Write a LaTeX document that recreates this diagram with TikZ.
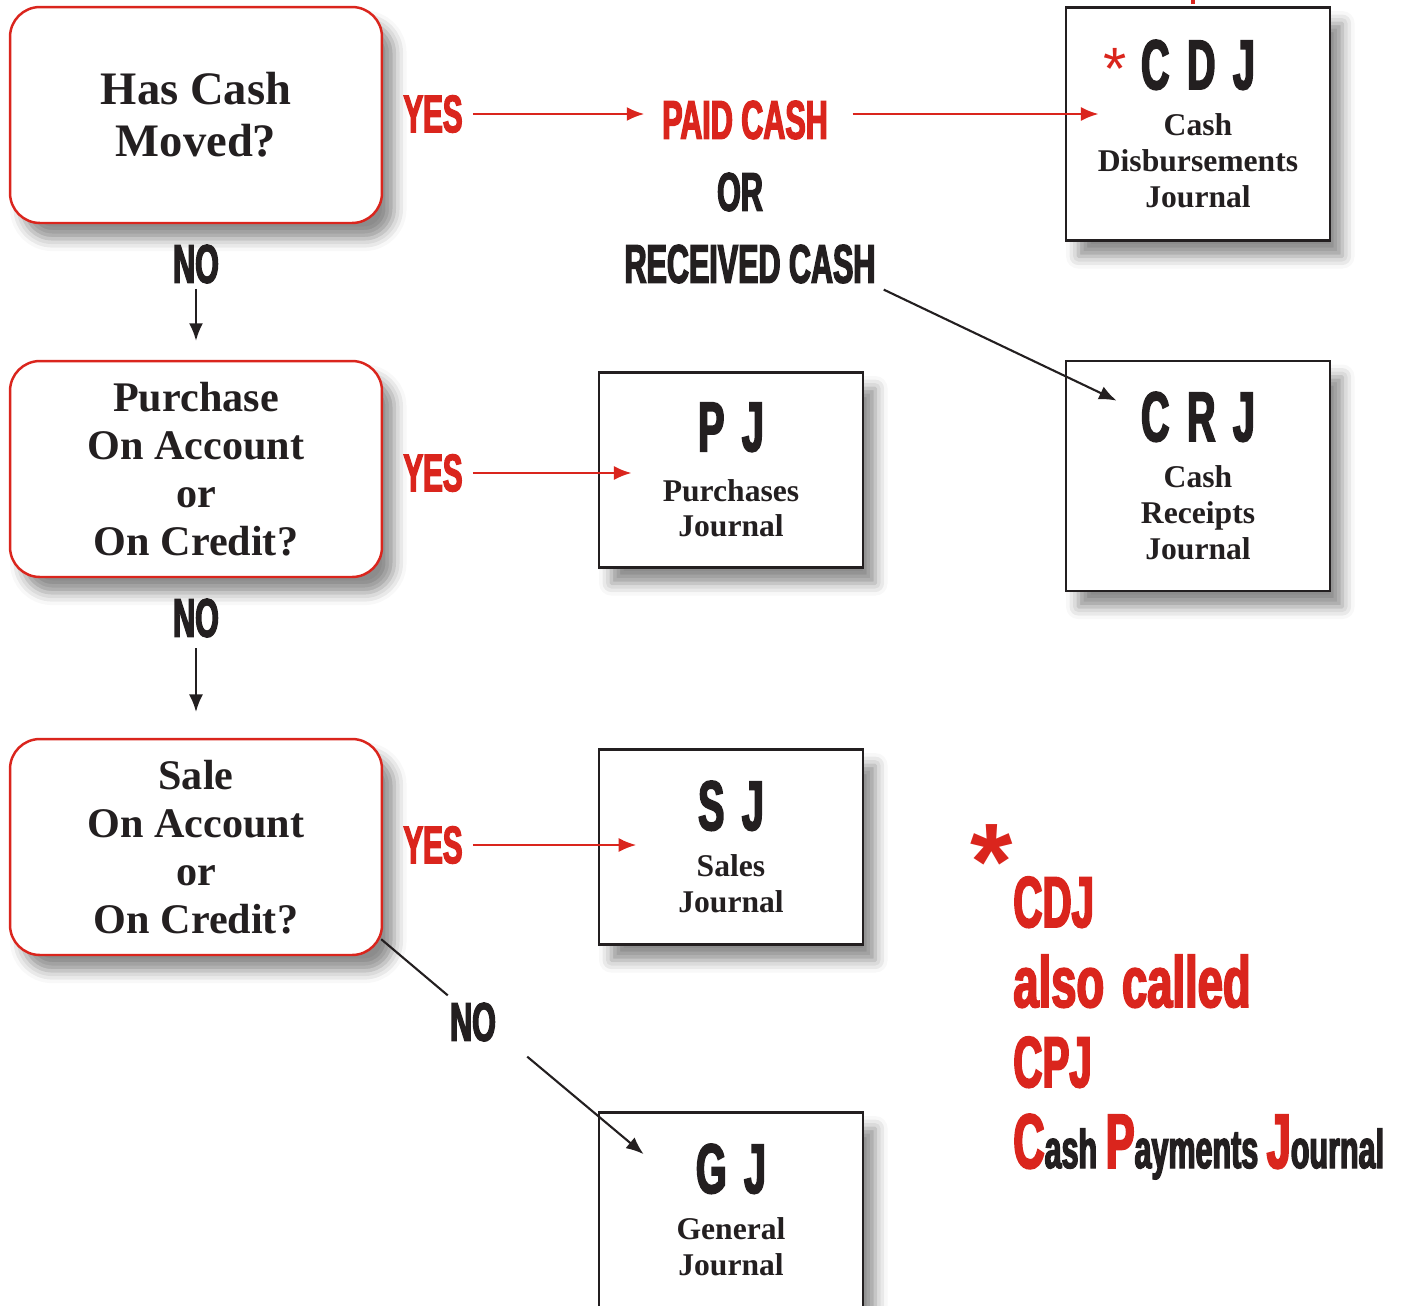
\documentclass[tikz,border=0pt]{standalone}
\usepackage{fontspec}
\setmainfont{Liberation Serif}
\newfontfamily\headfont[FakeStretch=0.56,FakeBold=2.5]{Liberation Sans}
\newfontfamily\wideheadfont[FakeStretch=0.63,FakeBold=2.5]{Liberation Sans}
\newfontfamily\starfont{Liberation Sans}
\usetikzlibrary{arrows.meta,shadows.blur}

\definecolor{qred}{RGB}{218,37,29}
\definecolor{ink}{RGB}{35,31,32}

\newcommand\jabbr[1]{{\headfont\fontsize{40}{20.4}\selectfont #1}}
\newcommand\jgap{\hspace{10pt}}
\newcommand\cdjstar{{\starfont\mdseries\fontsize{34}{20}\selectfont\textcolor{qred}{*}\hspace{8pt}}}
\newcommand\capred[1]{{\color{qred}\headfont\fontsize{44}{44}\selectfont #1}}

\tikzset{
  boxshadow/.style={blur shadow={shadow xshift=7pt, shadow yshift=-9pt,
      shadow blur radius=7pt, shadow opacity=45}},
  question/.style={draw=qred, line width=1.4pt, rounded corners=17pt,
      fill=white, boxshadow, minimum width=7.44cm, minimum height=4.32cm,
      align=center, text=ink, inner sep=0pt,
      font=\bfseries\fontsize{24}{27.2}\selectfont},
  journal/.style={draw=ink, line width=1.6pt, fill=white, boxshadow,
      minimum width=5.28cm, minimum height=3.9cm, align=center, text=ink,
      inner sep=0pt, font=\bfseries\fontsize{18}{20.4}\selectfont},
  word/.style={inner sep=0pt, text=ink,
      font=\headfont\bfseries\fontsize{31}{31}\selectfont},
  yeslabel/.style={word, text=qred,
      font=\headfont\bfseries\fontsize{30}{30}\selectfont},
  note/.style={inner sep=0pt, anchor=base west, text=qred,
      font=\headfont\bfseries\fontsize{41}{41}\selectfont},
  redarrow/.style={draw=qred, line width=1.3pt, -{Latex[length=10pt,width=8pt]}},
  blackarrow/.style={draw=ink, line width=1.2pt, -{Latex[length=10pt,width=8pt]}},
  blackline/.style={draw=ink, line width=1.2pt}
}

\begin{document}
\begin{tikzpicture}[x=0.02cm, y=-0.02cm]
\useasboundingbox (0,0) rectangle (1405,1305);

% questions
\node[question, font=\bfseries\fontsize{26.5}{29.5}\selectfont] (q1) at (196,115) {Has Cash\\Moved?};
\node[question] (q2) at (196,469) {Purchase\\On Account\\or\\On Credit?};
\node[question] (q3) at (196,847) {Sale\\On Account\\or\\On Credit?};

% journals
\node[journal, minimum height=4.66cm] (cdj) at (1198,124)
  {\llap{\cdjstar}\jabbr{C\jgap D\jgap J}\\[6.3pt]Cash\\Disbursements\\Journal};
\node[journal, minimum height=4.6cm] (crj) at (1198,476)
  {\jabbr{C\jgap R\jgap J}\\[6.3pt]Cash\\Receipts\\Journal};
\node[journal] (pj) at (731,470) {\jabbr{P\jgap J}\\[8pt]Purchases\\Journal};
\node[journal] (sj) at (731,847) {\jabbr{S\jgap J}\\[6.3pt]Sales\\Journal};
\node[journal] (gj) at (731,1210) {\jabbr{G\jgap J}\\[6.3pt]General\\Journal};

% labels
\node[yeslabel] (yes1) at (433,114) {YES};
\node[word, text=qred] (paid) at (745,120) {PAID CASH};
\node[word] (or) at (740,192) {OR};
\node[word] (received) at (750,264) {RECEIVED CASH};
\node[word] (no1) at (196,264) {NO};
\node[yeslabel] (yes2) at (433,473) {YES};
\node[word] (no2) at (196,618) {NO};
\node[yeslabel] (yes3) at (433,845) {YES};
\node[word] (no3) at (473,1022) {NO};

% side note
\node[inner sep=0pt, text=qred, font=\starfont\bfseries\fontsize{62}{62}\selectfont] (star) at (992,862) {*};
\node[note] (note1) at (1013,927) {CDJ};
\node[note, font=\wideheadfont\bfseries\fontsize{41}{41}\selectfont] (note2) at (1013,1007) {also\hspace{3pt} called};
\node[note] (note3) at (1013,1087) {CPJ};
\node[note, text=ink, font=\headfont\bfseries\fontsize{31}{31}\selectfont] (note4) at (1013,1168)
  {\capred{C}ash \capred{P}ayments \capred{J}ournal};

% arrows
\draw[redarrow, shorten <=5.7pt, shorten >=10pt] (yes1.east) -- (yes1.east -| paid.west);
\draw[redarrow, shorten <=14pt, shorten >=-19.3pt] (yes1.east -| paid.east) -- (yes1.east -| cdj.west);
\draw[blackarrow] ([shift={(8,6)}]received.south east) -- ([shift={(52,41)}]crj.north west);
\draw[blackarrow, shorten <=3pt, shorten >=10.8pt] (no1.south) -- (q2.north);
\draw[redarrow, shorten <=5.7pt, shorten >=-19.3pt] (yes2.east) -- (yes2.east -| pj.west);
\draw[blackarrow, shorten <=6pt, shorten >=14.7pt] (no2.south) -- (q3.north);
\draw[redarrow, shorten <=5.7pt, shorten >=-22pt] (yes3.east) -- (yes3.east -| sj.west);
\draw[blackline] ([shift={(-2,-17)}]q3.south east) -- ([shift={(-2,-7)}]no3.north west);
\draw[blackarrow] ([shift={(31,15)}]no3.south east) -- ([shift={(46,43)}]gj.north west);
\draw[redarrow, -, line width=2pt] ([shift={(-5,-2)}]cdj.north) -- ++(0,-10);

\end{tikzpicture}
\end{document}
